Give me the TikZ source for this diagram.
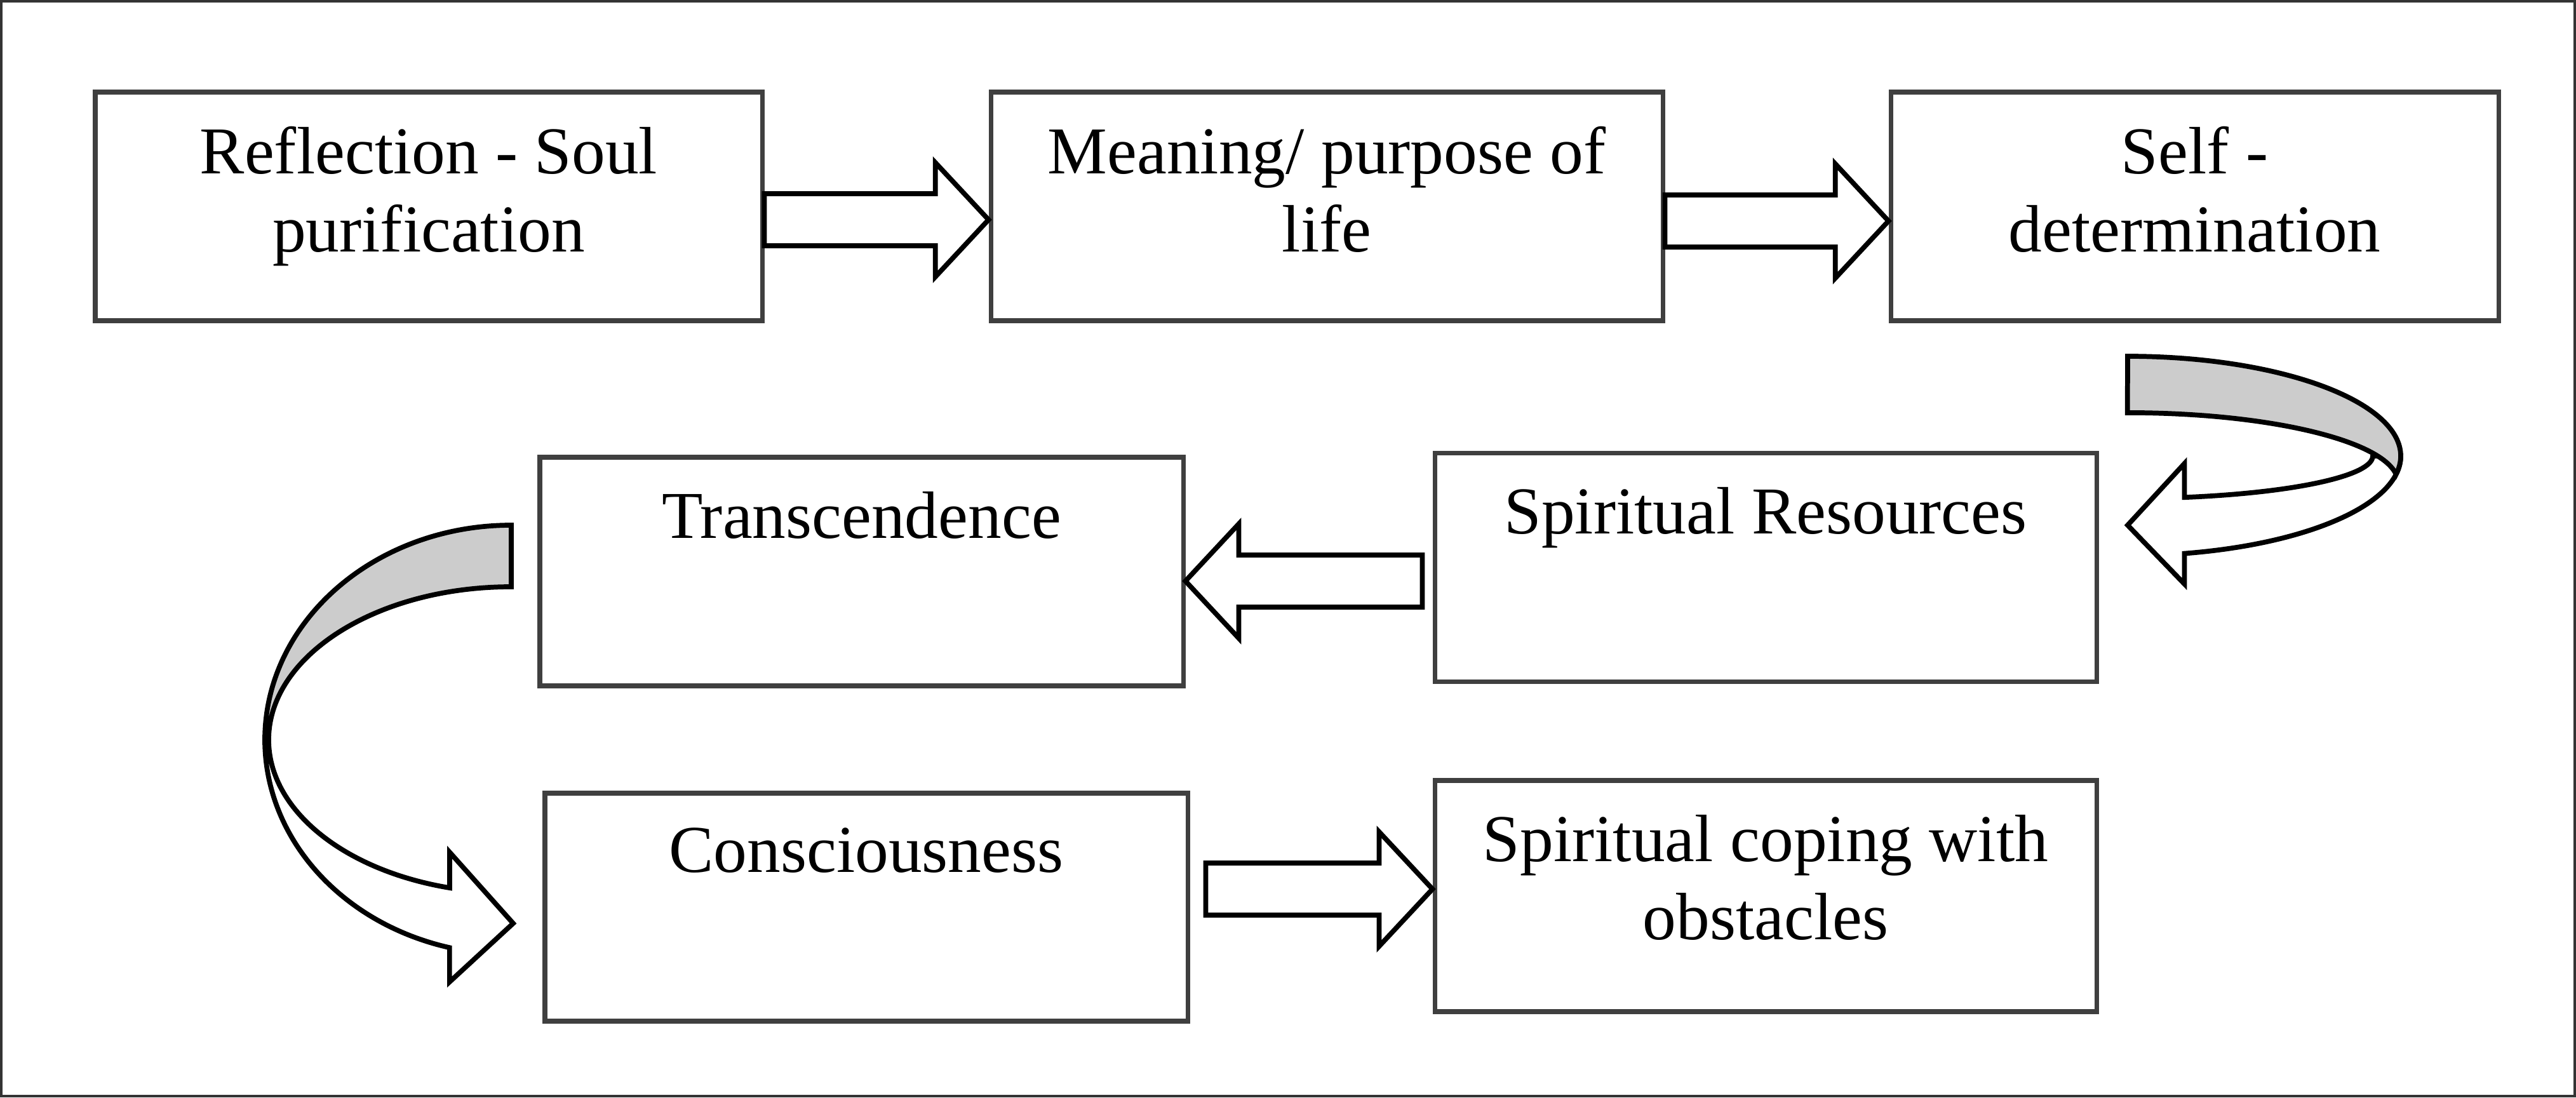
\documentclass[tikz,border=0pt]{standalone}
\usepackage{fontspec}
\setmainfont{Liberation Serif}
\usetikzlibrary{calc,positioning}
\definecolor{boxline}{HTML}{3F3F3F}
\definecolor{bandgray}{HTML}{CCCCCC}

\newcommand{\blockarrow}[2]{%
  \draw[blockline] let \p1=(#1), \p2=(#2), \p3=($(#2)!0.84cm!(#1)$) in
    (\x1,\y1+0.41cm) -- (\x3,\y1+0.41cm) -- (\x3,\y1+0.9cm) -- (\x2,\y1)
    -- (\x3,\y1-0.9cm) -- (\x3,\y1-0.41cm) -- (\x1,\y1-0.41cm) -- cycle;}

\begin{document}
\begin{tikzpicture}[
    box/.style={draw=boxline, line width=2pt, minimum height=3.6cm, inner sep=0pt},
    lbl/.style={align=center, inner sep=0pt, font=\fontsize{30}{35}\selectfont},
    blockline/.style={draw=black, line width=2.2pt, fill=white, line join=miter},
    backband/.style={blockline, fill=bandgray},
    outerframe/.style={draw=black!80, line width=1.2pt}]
    \useasboundingbox (0,0) rectangle (40.56,17.28);
    \draw[outerframe] (0.02,0.02) rectangle (40.54,17.26);

    \node[box, minimum width=10.5cm] (refl) at (6.75,14.03) {};
    \node[box, minimum width=10.58cm] (mean) at (20.89,14.03) {};
    \node[box, minimum width=9.57cm] (selfdet) at (34.555,14.03) {};
    \node[box, minimum width=10.42cm] (res) at (27.80,8.345) {};
    \node[box, minimum width=10.13cm] (trans) at (13.565,8.28) {};
    \node[box, minimum width=10.12cm, minimum height=3.59cm] (consc) at (13.64,2.995) {};
    \node[box, minimum width=10.42cm, minimum height=3.64cm] (coping) at (27.80,3.17) {};

    \node[lbl, below=0.57cm of refl.north] (refl-t) {Reflection - Soul\\purification};
    \node[lbl, below=0.57cm of mean.north] (mean-t) {Meaning/ purpose of\\life};
    \node[lbl, below=0.57cm of selfdet.north] (selfdet-t) {Self -\\determination};
    \node[lbl, below=0.57cm of res.north] (res-t) {Spiritual Resources};
    \node[lbl, below=0.57cm of trans.north] (trans-t) {Transcendence};
    \node[lbl, below=0.57cm of consc.north] (consc-t) {Consciousness};
    \node[lbl, below=0.57cm of coping.north] (coping-t) {Spiritual coping with\\obstacles};

    \coordinate (a1s) at ($(refl.east)+(0,-0.21)$);
    \coordinate (a2s) at ($(mean.east)+(0,-0.23)$);
    \coordinate (a3s) at ($(res.west)+(-0.16,-0.215)$);
    \coordinate (a4s) at ($(consc.east)+(0.25,0.285)$);
    \blockarrow{a1s}{mean.west}
    \blockarrow{a2s}{selfdet.west}
    \blockarrow{a3s}{trans.east}
    \blockarrow{a4s}{coping.west}

    \coordinate (bendR) at (33.50,10.10);
    \coordinate (bendL) at (8.05,5.63);
    \draw[blockline] ($(bendR)+(4.30,0)$) arc[start angle=0, end angle=-78, x radius=4.30cm, y radius=1.57cm]
        -- ++(0,-0.48) -- ($(bendR)+(0,-1.09)$) -- ($(bendR)+(0.894,-0.12)$) -- ($(bendR)+(0.894,-0.652)$)
        arc[start angle=-76.6, end angle=0, x radius=3.86cm, y radius=0.67cm] -- cycle;
    \draw[backband] ($(bendR)+(0,1.57)$) arc[start angle=90, end angle=-10.6, x radius=4.30cm, y radius=1.57cm]
        arc[start angle=6.8, end angle=90, x radius=4.26cm, y radius=1.10cm] -- cycle;
    \draw[backband] ($(bendL)+(0,3.38)$) arc[start angle=90, end angle=180, x radius=3.88cm, y radius=3.38cm]
        -- ++(0.06,0) arc[start angle=180, end angle=90, x radius=3.82cm, y radius=2.41cm] -- cycle;
    \draw[blockline] ($(bendL)+(-3.88,0)$) arc[start angle=180, end angle=255.5, x radius=3.88cm, y radius=3.38cm]
        -- ++(0,-0.54) -- ($(bendL)+(0.03,-2.89)$) -- ($(bendL)+(-0.97,-1.77)$) -- ($(bendL)+(-0.97,-2.331)$)
        arc[start angle=255.29, end angle=180, x radius=3.82cm, y radius=2.41cm] -- cycle;
\end{tikzpicture}
\end{document}
